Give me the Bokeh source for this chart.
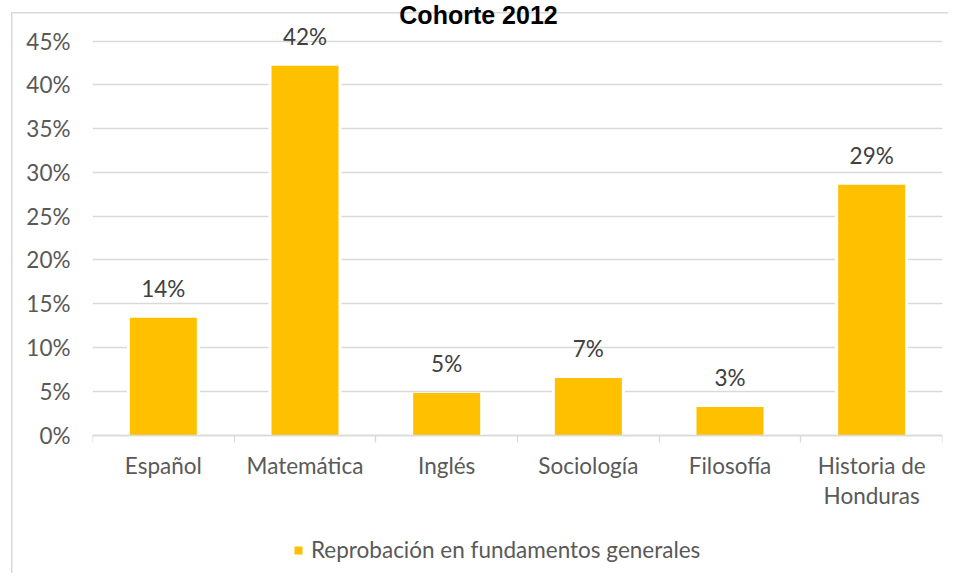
from bokeh.plotting import figure
from bokeh.models import (ColumnDataSource, FixedTicker, LabelSet, Label, Legend,
                          LegendItem, Range1d)
from bokeh.core.properties import value
from bokeh.embed import file_html
from bokeh.resources import INLINE

# ---- data ----
categories = ["Español", "Matemática", "Inglés", "Sociología", "Filosofía", "Historia de\nHonduras"]
values = [13.4, 42.2, 4.8, 6.5, 3.2, 28.6]          # percent
value_labels = ["14%", "42%", "5%", "7%", "3%", "29%"]
y_ticks = [0, 5, 10, 15, 20, 25, 30, 35, 40, 45]
y_tick_labels = ["0%", "5%", "10%", "15%", "20%", "25%", "30%", "35%", "40%", "45%"]
series_name = "Reprobación en fundamentos generales"
title_text = "Cohorte 2012"

FONT = "Lato"
FS = "22.5px"
AXIS_GRAY = "#595959"
LABEL_GRAY = "#404040"
GRID = "#D9D9D9"
BAR = "#FFC000"

xpos = [i + 0.5 for i in range(len(categories))]
src = ColumnDataSource(dict(x=xpos, top=values, lab=value_labels))

border_css = {
    "background-image": "linear-gradient(#D9D9D9,#D9D9D9), linear-gradient(#D9D9D9,#D9D9D9)",
    "background-size": "1.5px 100%, 100% 1.5px",
    "background-position": "11px 12px, 11px 12px",
    "background-repeat": "no-repeat",
}

# the frame covers the full height; the 0-45 % scale sits inside it and the
# category axis is pinned at y = 0 so that title and legend can live in the frame
Y_LO, Y_HI = -15.82, 49.64
p = figure(frame_width=850, frame_height=573, output_backend="svg", toolbar_location=None,
           x_range=Range1d(0, len(categories)), y_range=Range1d(Y_LO, Y_HI),
           min_border_left=92, min_border_right=6, min_border_top=0, min_border_bottom=0,
           styles=border_css)
p.title.visible = False
p.outline_line_color = None
p.background_fill_color = None
p.border_fill_color = None

# white halo behind bars (hides gridlines beside bars), then the bars
p.vbar(x="x", top="top", width=0.515, source=src, fill_color="white", line_color=None)
bars = p.vbar(x="x", top="top", width=0.473, source=src, fill_color=BAR, line_color=None)

# grid
p.xgrid.grid_line_color = None
p.ygrid.grid_line_color = GRID
p.ygrid.grid_line_width = 1.3

# y axis
p.yaxis.ticker = FixedTicker(ticks=y_ticks)
p.yaxis.major_label_overrides = {t: l for t, l in zip(y_ticks, y_tick_labels)}
p.yaxis.axis_line_color = None
p.yaxis.major_tick_line_color = None
p.yaxis.minor_tick_line_color = None
p.yaxis.major_tick_out = 0
p.yaxis.major_tick_in = 0
p.yaxis.major_label_standoff = 22
p.yaxis.major_label_text_font = FONT
p.yaxis.major_label_text_font_size = FS
p.yaxis.major_label_text_color = AXIS_GRAY

# x axis at 0 %: ticks at category boundaries (minor), labels at centres (major)
p.xaxis.fixed_location = 0
p.xaxis.ticker = FixedTicker(ticks=xpos, minor_ticks=list(range(len(categories) + 1)))
p.xaxis.major_label_overrides = {x: c for x, c in zip(xpos, categories)}
p.xaxis.axis_line_color = GRID
p.xaxis.axis_line_width = 1.3
p.xaxis.major_tick_line_color = None
p.xaxis.major_tick_out = 0
p.xaxis.major_tick_in = 0
p.xaxis.minor_tick_line_color = GRID
p.xaxis.minor_tick_line_width = 1.3
p.xaxis.minor_tick_out = 7
p.xaxis.minor_tick_in = 0
p.xaxis.major_label_standoff = 10
p.xaxis.major_label_text_font = FONT
p.xaxis.major_label_text_font_size = FS
p.xaxis.major_label_text_color = AXIS_GRAY
p.xaxis.major_label_text_line_height = 1.12

# data labels
p.add_layout(LabelSet(x="x", y="top", text="lab", source=src, y_offset=21,
                      text_align="center", text_baseline="alphabetic",
                      text_font=value(FONT), text_font_size=value(FS),
                      text_color=LABEL_GRAY))

# chart title
p.add_layout(Label(x=3, y=Y_HI, x_offset=-39, y_offset=-14, text=title_text,
                   text_align="center", text_baseline="alphabetic",
                   text_font="Liberation Sans", text_font_style="bold",
                   text_font_size="25px", text_color="black"))

# legend under the category labels
legend = Legend(items=[LegendItem(label=series_name, renderers=[bars])],
                location=(201, 10), orientation="horizontal",
                padding=0, margin=0, spacing=0, border_line_color=None,
                background_fill_alpha=0, glyph_width=10, glyph_height=10,
                label_standoff=8, label_text_font=FONT, label_text_font_size=FS,
                label_text_color=AXIS_GRAY)
p.add_layout(legend, "center")

open("out.html", "w").write(file_html(p, INLINE))
